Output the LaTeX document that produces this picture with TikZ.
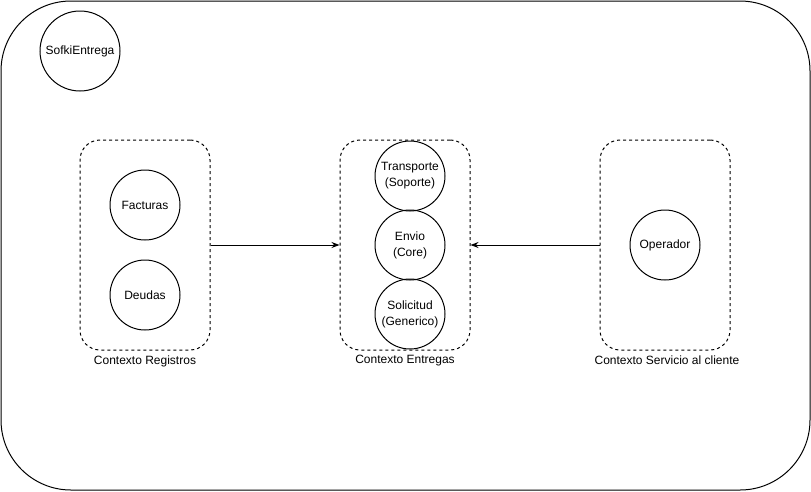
\documentclass[tikz,border=0pt]{standalone}
\usepackage{fontspec}
\setmainfont{Liberation Sans}
\usetikzlibrary{arrows.meta}

\begin{document}
\begin{tikzpicture}[x=1pt, y=-1pt, line width=1pt,
  font=\fontsize{12}{16}\selectfont,
  ent/.style={draw, circle, minimum size=70pt, inner sep=0pt, align=center},
  ctx/.style={draw, dashed, dash pattern=on 3pt off 3pt, rounded corners=20pt,
    minimum width=130pt, minimum height=210pt, inner sep=0pt},
  ctxname/.style={anchor=north, inner sep=0pt},
  rel/.style={-{Stealth[length=8pt, width=6pt]}}]
  \useasboundingbox (0,0) rectangle (811,491);
  % frame of the system
  \draw[rounded corners=70pt] (1,1) rectangle (810,490);
  \node[ent, minimum size=80pt] (sofki) at (80,51) {SofkiEntrega};

  % bounded contexts
  \node[ctx] (registros) at (145,245) {};
  \node[ctx] (entregas) at (405,245) {};
  \node[ctx] (servicio) at (665,245) {};
  \node[ctxname] (registrosname) at (145,355) {Contexto Registros};
  \node[ctxname] (entregasname) at (405,355) {Contexto Entregas};
  \node[ctxname] (servicioname) at (667,355) {Contexto Servicio al cliente};

  % entities
  \node[ent] (facturas) at (145,205) {Facturas};
  \node[ent] (deudas) at (145,295) {Deudas};
  \node[ent] (transporte) at (410,176) {Transporte\\(Soporte)};
  \node[ent] (envio) at (410,245) {Envio\\(Core)};
  \node[ent] (solicitud) at (410,314) {Solicitud\\(Generico)};
  \node[ent] (operador) at (665,245) {Operador};

  % relations
  \draw[rel] (registros.east) -- (entregas.west);
  \draw[rel] (servicio.west) -- (entregas.east);
\end{tikzpicture}
\end{document}
